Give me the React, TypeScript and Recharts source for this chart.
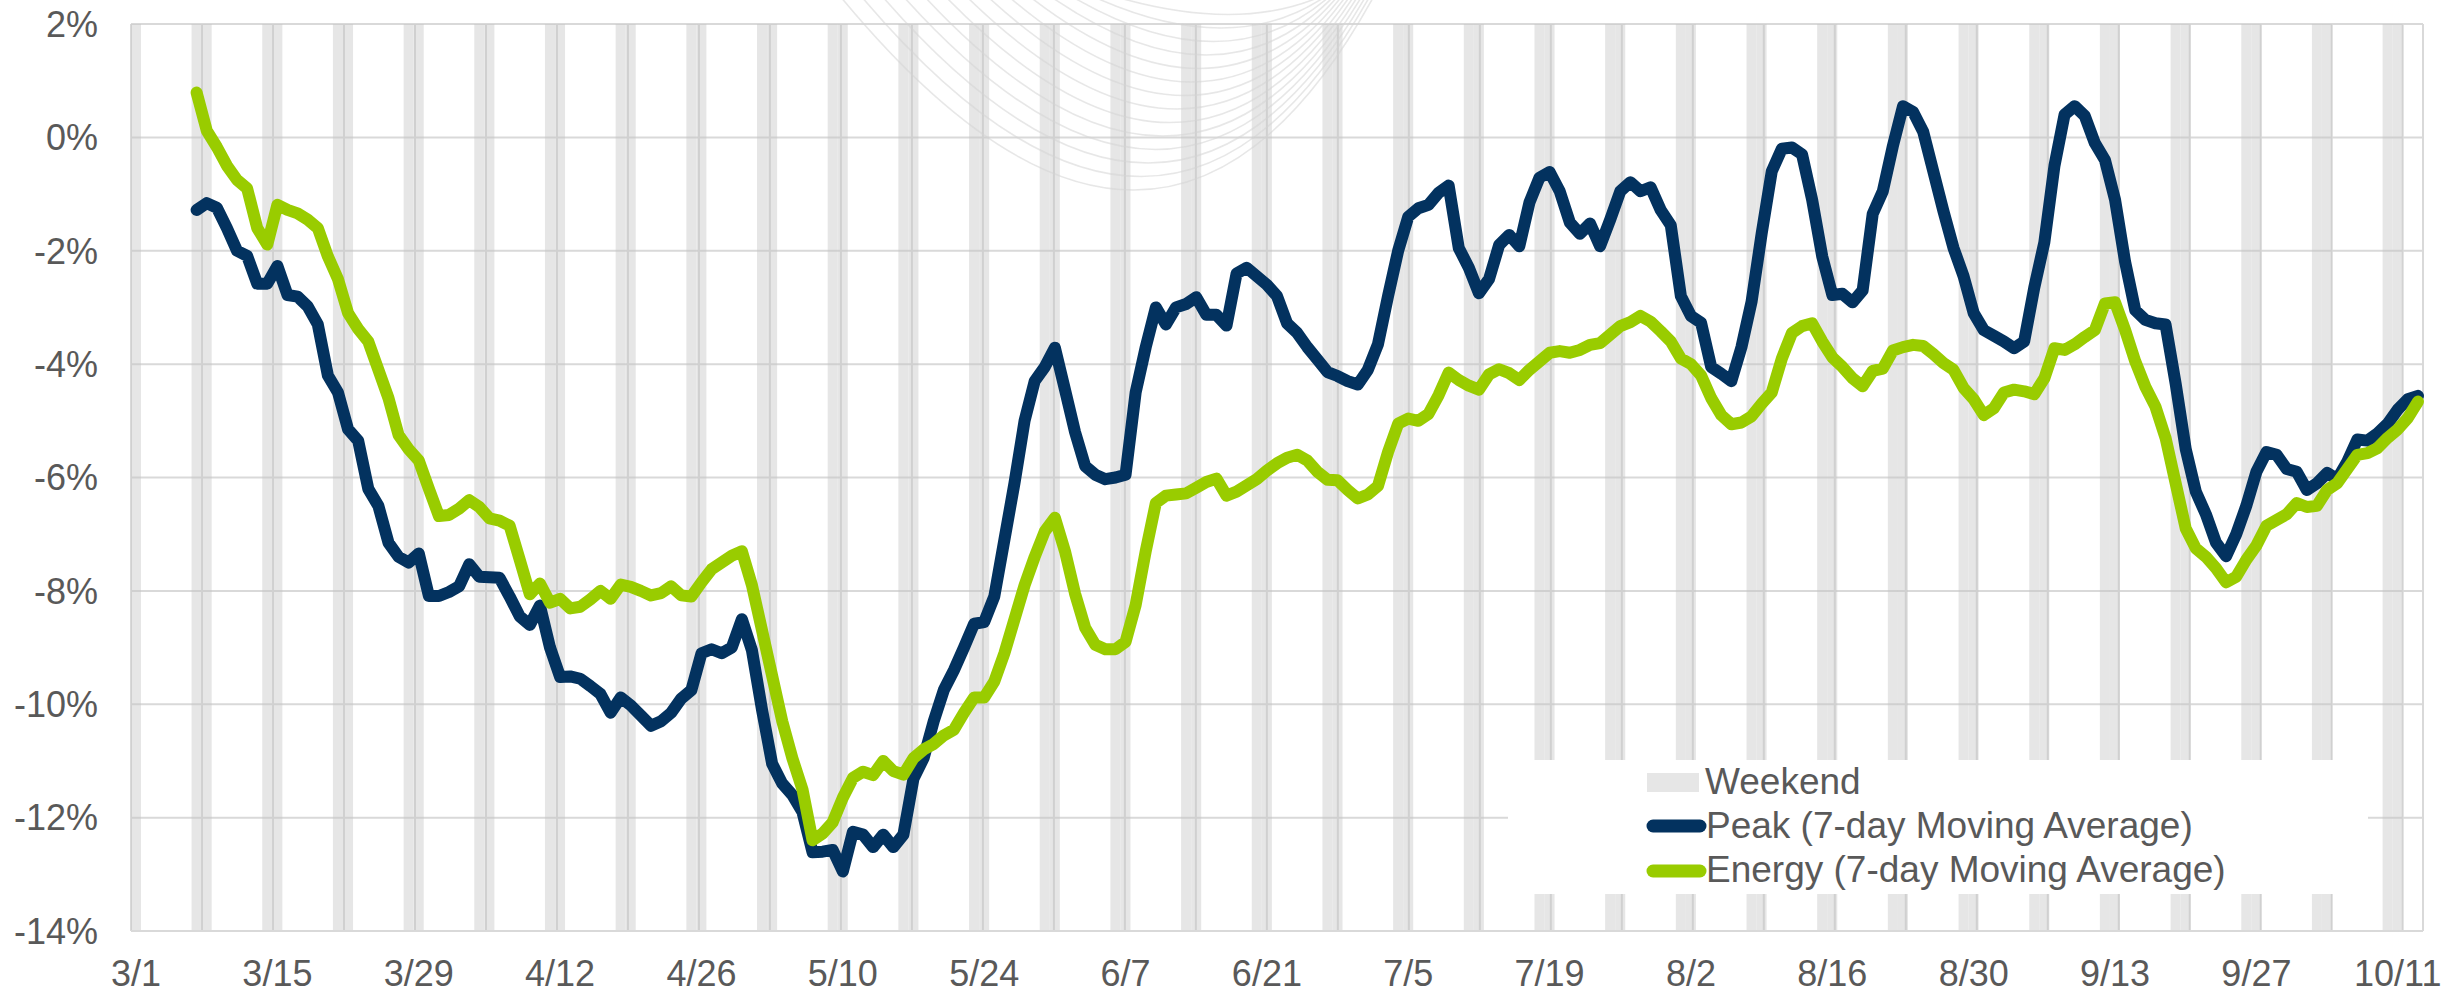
import React from 'react';
import { ComposedChart, Bar, Line, XAxis, YAxis, CartesianGrid, Legend } from 'recharts';

// Day index 0 = 3/1. Daily slots 0..226 (3/1 .. 10/13)
const N_DAYS = 227;
const FIRST_DAY = 6; // first 7-day moving-average point (3/7)

const PEAK = [
  -1.28, -1.16, -1.24, -1.60, -2.00, -2.09, -2.58, -2.58, -2.27, -2.78,
  -2.81, -2.98, -3.30, -4.20, -4.50, -5.15, -5.35, -6.20, -6.50, -7.15,
  -7.40, -7.50, -7.34, -8.09, -8.09, -8.02, -7.92, -7.53, -7.75, -7.76,
  -7.77, -8.10, -8.45, -8.60, -8.26, -9.00, -9.52, -9.51, -9.55, -9.68,
  -9.82, -10.15, -9.88, -10.02, -10.20, -10.38, -10.30, -10.15, -9.90, -9.75,
  -9.10, -9.03, -9.10, -9.00, -8.50, -9.05, -10.10, -11.05, -11.40, -11.60,
  -11.90, -12.61, -12.60, -12.57, -12.95, -12.25, -12.30, -12.52, -12.30, -12.52,
  -12.30, -11.31, -10.95, -10.30, -9.75, -9.40, -9.00, -8.58, -8.55, -8.10,
  -7.10, -6.10, -5.00, -4.30, -4.05, -3.71, -4.45, -5.20, -5.80, -5.95,
  -6.03, -6.00, -5.95, -4.50, -3.70, -3.00, -3.30, -3.00, -2.94, -2.82,
  -3.13, -3.13, -3.32, -2.40, -2.30, -2.45, -2.60, -2.80, -3.28, -3.45,
  -3.70, -3.92, -4.14, -4.21, -4.30, -4.36, -4.10, -3.65, -2.80, -2.00,
  -1.40, -1.25, -1.19, -0.98, -0.85, -1.95, -2.30, -2.75, -2.50, -1.90,
  -1.72, -1.92, -1.15, -0.71, -0.61, -0.95, -1.50, -1.70, -1.52, -1.92,
  -1.45, -0.95, -0.79, -0.95, -0.88, -1.28, -1.55, -2.80, -3.15, -3.27,
  -4.05, -4.17, -4.30, -3.70, -2.90, -1.70, -0.60, -0.20, -0.18, -0.30,
  -1.10, -2.10, -2.78, -2.76, -2.91, -2.70, -1.35, -0.95, -0.15, 0.55,
  0.45, 0.10, -0.60, -1.30, -1.95, -2.45, -3.10, -3.40, -3.50, -3.60,
  -3.72, -3.60, -2.65, -1.85, -0.50, 0.40, 0.55, 0.38, -0.10, -0.40,
  -1.10, -2.20, -3.05, -3.22, -3.28, -3.30, -4.34, -5.50, -6.25, -6.65,
  -7.15, -7.39, -7.00, -6.50, -5.90, -5.55, -5.60, -5.85, -5.90, -6.22,
  -6.10, -5.92, -6.03, -5.72, -5.33, -5.35, -5.22, -5.05, -4.80, -4.62, -4.56,
];

const ENERGY = [
  0.79, 0.12, -0.17, -0.50, -0.75, -0.90, -1.60, -1.89, -1.19, -1.28,
  -1.34, -1.45, -1.60, -2.10, -2.50, -3.10, -3.38, -3.60, -4.10, -4.60,
  -5.25, -5.50, -5.70, -6.20, -6.68, -6.66, -6.55, -6.40, -6.52, -6.72,
  -6.76, -6.85, -7.45, -8.06, -7.87, -8.21, -8.14, -8.31, -8.28, -8.15,
  -8.00, -8.14, -7.89, -7.93, -8.00, -8.08, -8.04, -7.92, -8.08, -8.10,
  -7.85, -7.62, -7.50, -7.38, -7.30, -7.90, -8.70, -9.50, -10.30, -10.95,
  -11.50, -12.40, -12.28, -12.08, -11.65, -11.30, -11.19, -11.25, -11.00, -11.18,
  -11.24, -10.95, -10.80, -10.70, -10.55, -10.45, -10.15, -9.88, -9.88, -9.60,
  -9.10, -8.50, -7.90, -7.40, -6.95, -6.71, -7.30, -8.05, -8.65, -8.95,
  -9.03, -9.03, -8.90, -8.25, -7.30, -6.45, -6.32, -6.30, -6.28, -6.18,
  -6.08, -6.02, -6.32, -6.25, -6.14, -6.03, -5.88, -5.75, -5.65, -5.60,
  -5.70, -5.90, -6.04, -6.05, -6.22, -6.37, -6.30, -6.15, -5.55, -5.05,
  -4.96, -5.00, -4.88, -4.55, -4.15, -4.28, -4.38, -4.45, -4.18, -4.09,
  -4.16, -4.28, -4.10, -3.95, -3.80, -3.77, -3.80, -3.75, -3.66, -3.63,
  -3.48, -3.33, -3.26, -3.15, -3.25, -3.42, -3.60, -3.90, -4.00, -4.20,
  -4.60, -4.90, -5.06, -5.03, -4.92, -4.70, -4.50, -3.90, -3.45, -3.33,
  -3.28, -3.60, -3.88, -4.05, -4.25, -4.39, -4.12, -4.08, -3.76, -3.70,
  -3.66, -3.68, -3.82, -3.98, -4.10, -4.42, -4.62, -4.90, -4.78, -4.50,
  -4.45, -4.48, -4.53, -4.25, -3.72, -3.75, -3.65, -3.52, -3.40, -2.93,
  -2.91, -3.40, -3.95, -4.40, -4.75, -5.30, -6.10, -6.90, -7.25, -7.40,
  -7.60, -7.85, -7.75, -7.45, -7.20, -6.85, -6.75, -6.65, -6.45, -6.52,
  -6.50, -6.22, -6.10, -5.85, -5.60, -5.57, -5.48, -5.30, -5.15, -4.95, -4.66,
];

const WEEKEND_DAYS = [
  0, 6, 7, 13, 14, 20, 21, 27, 28, 34, 35, 41, 42, 48, 49, 55, 56, 62, 63, 69, 70,
  76, 77, 83, 84, 90, 91, 97, 98, 104, 105, 111, 112, 118, 119, 125, 126, 132, 133,
  139, 140, 146, 147, 153, 154, 160, 161, 167, 168, 174, 175, 181, 182, 188, 189,
  195, 196, 202, 203, 209, 210, 216, 217, 223, 224,
];
const WEEKEND_RANGE = [-14, 2];

const TICK_DAYS = [0, 14, 28, 42, 56, 70, 84, 98, 112, 126, 140, 154, 168, 182, 196, 210, 224];
const TICK_LABELS = ['3/1', '3/15', '3/29', '4/12', '4/26', '5/10', '5/24', '6/7', '6/21', '7/5', '7/19', '8/2', '8/16', '8/30', '9/13', '9/27', '10/11'];
const GRID_DAYS = [0, 7, 14, 21, 28, 35, 42, 49, 56, 63, 70, 77, 84, 91, 98, 105, 112, 119, 126, 133, 140, 147, 154, 161, 168, 175, 182, 189, 196, 203, 210, 217, 224];
const Y_TICKS = [-14, -12, -10, -8, -6, -4, -2, 0, 2];

const NAVY = '#03325f';
const GREEN = '#99cc00';
const WEEKEND_COLOR = '#e6e6e6';
const TEXT = '#595959';
const FONT = '"Liberation Sans", Arial, sans-serif';

const data = Array.from({ length: N_DAYS }, (_, d) => ({
  d,
  peak: d >= FIRST_DAY ? PEAK[d - FIRST_DAY] : null,
  energy: d >= FIRST_DAY ? ENERGY[d - FIRST_DAY] : null,
  weekend: WEEKEND_DAYS.includes(d) ? WEEKEND_RANGE : null,
}));

const LegendBox = () => (
  <svg width={860} height={134} style={{ display: 'block', background: '#fff' }}>
    <rect x={139} y={13} width={52} height={19} fill={WEEKEND_COLOR} />
    <text x={197} y={34} fill={TEXT} fontSize={37} fontFamily={FONT}>Weekend</text>
    <line x1={145} x2={192} y1={66} y2={66} stroke={NAVY} strokeWidth={13} strokeLinecap="round" />
    <text x={198} y={78} fill={TEXT} fontSize={37} fontFamily={FONT}>Peak (7-day Moving Average)</text>
    <line x1={145} x2={192} y1={111} y2={111} stroke={GREEN} strokeWidth={13} strokeLinecap="round" />
    <text x={198} y={122} fill={TEXT} fontSize={37} fontFamily={FONT}>Energy (7-day Moving Average)</text>
  </svg>
);

const Watermark = () => {
  const arcs = [];
  for (let i = 0; i < 14; i++) {
    const L = 840 + i * 21;
    const R = 1374 - i * 4;
    const depth = 192 - i * 13.5;
    const mx = L + 0.6 * (R - L);
    arcs.push(<path key={i} d={`M ${L} -4 Q ${mx} ${2 * depth} ${R} -4`} fill="none" stroke="#d4d4d4" strokeWidth={1.6} opacity={0.55} />);
  }
  return (
    <svg width={2463} height={996} style={{ position: 'absolute', left: 0, top: 0, pointerEvents: 'none' }}>
      {arcs}
    </svg>
  );
};

export default function App() {
  const tickStyle = { fill: TEXT, fontSize: 36, fontFamily: FONT };
  return (
    <div style={{ position: 'absolute', left: 0, top: 0, width: 2463, height: 996, background: '#fff', overflow: 'hidden' }}>
      <ComposedChart
        width={2463}
        height={996}
        data={data}
        margin={{ top: 24, right: 40, bottom: 0, left: 0 }}
        barCategoryGap={0}
        barGap={0}
      >
        <XAxis xAxisId="grid" type="number" domain={[0, N_DAYS]} ticks={GRID_DAYS} hide allowDataOverflow />
        <XAxis
          xAxisId="cat"
          dataKey="d"
          type="category"
          ticks={TICK_DAYS}
          interval={0}
          tickFormatter={(v) => TICK_LABELS[TICK_DAYS.indexOf(Number(v))]}
          axisLine={{ stroke: '#d9d9d9', strokeWidth: 2 }}
          tickLine={false}
          tickSize={0}
          tickMargin={29}
          height={65}
          tick={tickStyle}
        />
        <YAxis
          yAxisId="y"
          domain={[-14, 2]}
          ticks={Y_TICKS}
          interval={0}
          width={131}
          axisLine={false}
          tickLine={false}
          tickSize={0}
          tickMargin={33}
          allowDataOverflow
          tickFormatter={(v) => `${v}%`}
          tick={tickStyle}
        />
        <CartesianGrid xAxisId="grid" yAxisId="y" stroke="#d9d9d9" strokeWidth={2} />
        <Bar xAxisId="cat" yAxisId="y" dataKey="weekend" fill="#c4c4c4" fillOpacity={0.42} isAnimationActive={false} legendType="none" />
        <Line xAxisId="cat" yAxisId="y" dataKey="peak" name="Peak (7-day Moving Average)" stroke={NAVY} strokeWidth={12} dot={false} activeDot={false} strokeLinejoin="round" strokeLinecap="round" isAnimationActive={false} />
        <Line xAxisId="cat" yAxisId="y" dataKey="energy" name="Energy (7-day Moving Average)" stroke={GREEN} strokeWidth={12} dot={false} activeDot={false} strokeLinejoin="round" strokeLinecap="round" isAnimationActive={false} />
        <Legend
          layout="vertical"
          align="center"
          verticalAlign="middle"
          content={LegendBox}
          wrapperStyle={{ position: 'absolute', left: 1508, top: 760, width: 860, height: 134, margin: 0, background: '#fff' }}
        />
      </ComposedChart>
      <Watermark />
    </div>
  );
}
